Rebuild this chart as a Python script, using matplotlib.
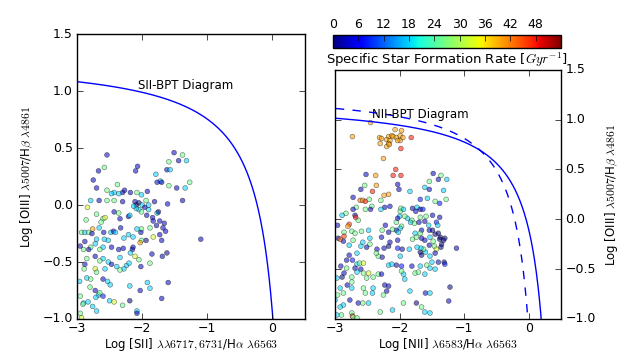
import matplotlib
matplotlib.use('Agg')
import matplotlib.pyplot as plt
import numpy as np

plt.style.use('classic')

# SII-BPT sample: log([SII]/Ha), log([OIII]/Hb), specific SFR (1/Gyr)
sii_x = [-2.54, -1.51, -1.38, -1.32, -1.44, -1.59, -2.58, -2.67, -2.07, -2.10, -2.75, -1.62, -1.57,
         -1.79, -1.72, -1.77, -1.70, -1.27, -1.59, -1.47, -1.34, -2.38, -2.70, -2.54, -2.27, -2.30,
         -2.43, -2.18, -2.08, -1.92, -2.01, -2.47, -2.36, -2.79, -2.66, -2.54, -2.43, -2.30, -2.11,
         -2.05, -2.09, -1.94, -1.81, -1.38, -1.61, -2.84, -2.70, -2.86, -2.60, -2.63, -2.57, -2.43,
         -2.36, -2.21, -2.19, -2.05, -2.01, -1.90, -1.77, -1.75, -1.73, -1.66, -1.83, -1.84, -1.93,
         -1.90, -2.00, -1.96, -2.09, -2.13, -2.34, -2.93, -2.88, -2.82, -2.76, -2.77, -2.66, -2.59,
         -2.70, -2.58, -2.48, -2.44, -2.41, -2.33, -2.28, -2.21, -2.14, -2.08, -2.01, -2.02, -1.88,
         -1.78, -1.64, -1.68, -1.73, -1.70, -1.83, -1.94, -2.01, -2.03, -2.14, -2.15, -2.29, -2.36,
         -2.47, -2.60, -2.72, -2.79, -2.82, -2.90, -2.52, -2.88, -2.65, -2.95, -1.62, -1.69, -1.85,
         -1.88, -2.02, -2.11, -2.05, -2.18, -2.34, -2.52, -2.60, -2.65, -2.72, -2.85, -2.88, -2.72,
         -2.57, -2.70, -2.47, -2.39, -2.24, -2.20, -2.28, -2.34, -2.89, -2.85, -2.96, -2.79, -2.60,
         -2.53, -2.49, -2.80, -2.72, -2.67, -2.60, -2.71, -2.65, -2.95, -2.90, -2.83, -2.76, -2.70,
         -2.50, -2.43, -2.30, -2.19, -1.92, -1.88, -2.03, -2.19, -1.60, -1.70, -2.08, -2.08, -2.95,
         -2.93, -2.91, -1.10]
sii_y = [0.44, 0.46, 0.44, 0.39, 0.39, 0.38, 0.33, 0.30, 0.34, 0.30, 0.22, 0.31, 0.31,
         0.27, 0.21, 0.20, 0.20, 0.20, 0.17, 0.15, 0.15, 0.18, 0.15, 0.13, 0.13, 0.11,
         0.11, 0.11, 0.11, 0.12, 0.09, 0.10, 0.10, 0.04, 0.04, 0.04, 0.04, 0.03, 0.03,
         0.02, 0.00, 0.04, 0.03, 0.04, 0.01, -0.02, -0.08, -0.13, -0.12, -0.15, -0.11, -0.06,
         -0.07, -0.10, -0.09, -0.04, -0.06, -0.04, -0.07, -0.06, -0.14, -0.16, -0.14, -0.11, -0.09,
         0.00, 0.00, -0.02, -0.03, -0.01, -0.12, -0.24, -0.24, -0.24, -0.21, -0.25, -0.20, -0.24,
         -0.30, -0.30, -0.24, -0.23, -0.24, -0.20, -0.29, -0.26, -0.28, -0.21, -0.21, -0.24, -0.20,
         -0.18, -0.23, -0.20, -0.26, -0.31, -0.28, -0.31, -0.31, -0.33, -0.37, -0.39, -0.38, -0.39,
         -0.37, -0.37, -0.34, -0.37, -0.39, -0.39, -0.31, -0.32, -0.39, -0.36, -0.42, -0.45, -0.43,
         -0.51, -0.54, -0.45, -0.48, -0.42, -0.46, -0.50, -0.47, -0.49, -0.45, -0.47, -0.52, -0.56,
         -0.56, -0.59, -0.52, -0.54, -0.53, -0.51, -0.56, -0.57, -0.56, -0.64, -0.67, -0.65, -0.65,
         -0.67, -0.70, -0.72, -0.75, -0.79, -0.80, -0.81, -0.77, -0.80, -0.86, -0.85, -0.89, -0.93,
         -0.84, -0.85, -0.88, -0.84, -0.68, -0.73, -0.75, -0.71, -0.68, -0.82, -0.93, -0.95, -0.95,
         -0.99, -0.87, -0.30]
sii_ssfr = [3, 3, 26, 18, 3, 26, 26, 3, 3, 3, 3, 3, 18,
            18, 18, 3, 3, 26, 26, 3, 18, 26, 3, 26, 3, 3,
            18, 3, 26, 3, 18, 18, 18, 18, 3, 26, 26, 3, 3,
            0, 0, 26, 3, 3, 3, 33, 26, 26, 26, 26, 33, 3,
            26, 3, 18, 18, 26, 18, 18, 0, 3, 3, 3, 3, 3,
            18, 18, 3, 18, 18, 3, 26, 18, 26, 40, 3, 18, 3,
            18, 18, 18, 3, 18, 3, 18, 18, 18, 18, 26, 3, 26,
            3, 3, 3, 3, 3, 33, 0, 26, 40, 3, 3, 3, 3,
            3, 18, 18, 26, 3, 26, 18, 3, 26, 3, 0, 3, 3,
            26, 3, 33, 26, 18, 18, 18, 18, 26, 3, 26, 3, 33,
            18, 26, 3, 18, 18, 18, 18, 26, 26, 18, 18, 26, 3,
            18, 18, 26, 3, 18, 8, 18, 26, 26, 18, 18, 18, 18,
            18, 33, 26, 0, 18, 18, 3, 18, 3, 3, 18, 3, 26,
            33, 26, 3]

# NII-BPT sample: log([NII]/Ha), log([OIII]/Hb), specific SFR (1/Gyr)
nii_x = [-2.45, -2.73, -2.31, -2.28, -2.30, -2.17, -2.20, -2.12, -2.10, -2.07, -2.05, -1.99, -1.97,
         -1.95, -1.99, -2.03, -2.15, -2.17, -2.20, -2.16, -1.82, -1.98, -2.25, -2.06, -2.10, -1.98,
         -2.52, -2.37, -2.03, -2.01, -1.48, -1.36, -1.40, -1.27, -1.54, -1.61, -1.54, -1.32, -2.54,
         -2.60, -2.42, -2.36, -2.24, -2.17, -2.29, -1.84, -1.68, -1.57, -1.28, -1.45, -1.38, -2.72,
         -2.61, -2.57, -2.53, -2.47, -2.43, -2.45, -2.53, -2.67, -2.72, -2.83, -2.89, -2.69, -2.64,
         -2.68, -2.78, -2.80, -2.96, -2.15, -2.23, -2.29, -1.98, -1.80, -1.73, -1.68, -1.64, -1.75,
         -1.88, -1.81, -1.83, -1.77, -1.68, -1.70, -1.61, -1.59, -1.49, -1.38, -1.43, -1.41, -1.40,
         -1.45, -1.37, -1.35, -1.36, -1.38, -1.49, -1.54, -1.55, -1.66, -1.68, -1.76, -1.80, -1.74,
         -1.66, -1.61, -1.53, -1.48, -1.54, -1.46, -1.43, -1.45, -1.60, -1.53, -1.63, -1.68, -1.66,
         -1.67, -1.73, -1.85, -1.96, -1.99, -2.03, -2.03, -1.97, -1.99, -2.05, -2.17, -2.15, -2.24,
         -2.27, -2.35, -2.33, -2.36, -2.46, -2.51, -2.60, -2.72, -2.78, -2.87, -2.95, -2.86, -2.92,
         -2.86, -2.74, -2.69, -2.59, -2.48, -2.46, -2.57, -2.28, -2.11, -2.27, -2.22, -2.17, -2.02,
         -2.00, -1.99, -2.05, -2.03, -1.92, -1.94, -2.66, -2.78, -2.82, -2.73, -2.66, -2.62, -2.56,
         -2.60, -2.69, -2.82, -2.91, -2.86, -2.89, -2.97, -2.74, -2.66, -2.74, -2.81, -2.92, -2.96,
         -2.87, -2.74, -2.56, -2.48, -2.51, -2.41, -2.33, -2.28, -2.17, -2.05, -2.12, -1.97, -1.94,
         -1.97, -1.92, -1.81, -1.76, -1.68, -1.61, -1.53, -1.45, -1.40, -1.31, -1.30, -1.50, -1.58,
         -1.71, -2.23, -2.17, -2.20, -2.25, -2.41, -2.56, -2.53, -2.42, -2.48, -2.64, -2.57, -2.77,
         -2.87, -3.00, -2.92, -2.97, -2.90, -2.74, -2.73, -2.72, -2.66, -2.30, -2.11, -1.94, -1.84,
         -1.74, -1.66, -1.61, -1.53, -1.60, -1.53, -1.22, -1.24, -1.12, -1.30, -1.32]
nii_y = [0.97, 0.83, 0.82, 0.81, 0.76, 0.83, 0.80, 0.84, 0.83, 0.90, 0.82, 0.84, 0.89,
         0.82, 0.79, 0.79, 0.79, 0.76, 0.73, 0.75, 0.82, 0.71, 0.61, 0.50, 0.44, 0.44,
         0.45, 0.44, 0.35, 0.30, 0.46, 0.44, 0.40, 0.40, 0.38, 0.32, 0.30, 0.29, 0.34,
         0.30, 0.28, 0.34, 0.24, 0.25, 0.19, 0.28, 0.20, 0.21, 0.20, 0.18, 0.16, 0.22,
         0.19, 0.19, 0.18, 0.20, 0.13, 0.10, 0.10, 0.12, 0.10, 0.06, 0.04, 0.04, -0.01,
         0.02, -0.05, -0.07, -0.06, 0.13, 0.12, 0.10, 0.11, 0.11, 0.12, 0.10, 0.10, 0.08,
         0.01, -0.01, -0.03, -0.04, 0.02, -0.03, -0.02, 0.03, 0.04, 0.02, -0.03, -0.06, -0.14,
         -0.15, -0.18, -0.25, -0.28, -0.20, -0.11, -0.11, -0.06, -0.11, -0.14, -0.14, -0.20, -0.18,
         -0.19, -0.21, -0.18, -0.22, -0.26, -0.27, -0.30, -0.34, -0.33, -0.37, -0.30, -0.33, -0.36,
         -0.29, -0.28, -0.30, -0.30, -0.37, -0.29, -0.21, -0.07, -0.09, -0.11, -0.27, -0.23, -0.29,
         -0.38, -0.30, -0.37, -0.34, -0.25, -0.28, -0.27, -0.21, -0.26, -0.22, -0.19, -0.13, -0.20,
         -0.17, -0.12, -0.14, -0.12, -0.11, -0.19, -0.23, -0.18, -0.10, -0.11, -0.06, -0.13, -0.13,
         0.03, 0.08, -0.03, 0.01, 0.03, 0.10, -0.34, -0.36, -0.41, -0.41, -0.45, -0.44, -0.44,
         -0.50, -0.49, -0.49, -0.47, -0.54, -0.58, -0.59, -0.58, -0.53, -0.63, -0.66, -0.69, -0.76,
         -0.74, -0.69, -0.54, -0.54, -0.59, -0.58, -0.55, -0.55, -0.46, -0.46, -0.45, -0.47, -0.55,
         -0.52, -0.60, -0.47, -0.54, -0.47, -0.55, -0.49, -0.50, -0.43, -0.43, -0.45, -0.43, -0.46,
         -0.53, -0.66, -0.67, -0.72, -0.76, -0.69, -0.69, -0.74, -0.74, -0.84, -0.84, -0.84, -0.81,
         -0.86, -0.81, -0.88, -0.96, -0.96, -0.94, -0.97, -0.98, -0.99, -0.93, -0.91, -0.84, -0.72,
         -0.84, -0.88, -0.93, -0.94, -0.74, -0.74, -0.68, -0.82, -0.29, -0.19, -0.21]
nii_ssfr = [40, 40, 40, 40, 40, 40, 40, 40, 40, 40, 40, 40, 40,
            40, 40, 40, 40, 40, 40, 40, 48, 48, 40, 48, 48, 48,
            3, 40, 3, 3, 3, 26, 3, 18, 26, 18, 3, 18, 26,
            3, 48, 40, 40, 40, 26, 18, 8, 18, 26, 26, 8, 3,
            44, 40, 48, 26, 26, 3, 26, 26, 3, 26, 18, 3, 26,
            48, 46, 40, 3, 3, 3, 18, 26, 3, 18, 3, 8, 3,
            18, 26, 18, 26, 26, 3, 3, 26, 3, 3, 8, 18, 0,
            0, 0, 0, 0, 0, 0, 3, 18, 3, 26, 18, 26, 26,
            3, 3, 18, 26, 3, 26, 33, 3, 18, 18, 26, 0, 0,
            18, 18, 18, 3, 18, 8, 3, 26, 18, 3, 0, 3, 3,
            3, 3, 26, 26, 26, 3, 18, 26, 18, 3, 3, 26, 44,
            46, 26, 26, 26, 18, 18, 18, 3, 26, 26, 3, 3, 18,
            18, 26, 26, 3, 26, 18, 18, 3, 3, 8, 18, 26, 33,
            3, 3, 26, 3, 3, 0, 18, 26, 18, 26, 3, 18, 26,
            26, 18, 26, 33, 26, 26, 26, 3, 18, 3, 18, 8, 18,
            26, 18, 3, 26, 18, 18, 18, 18, 3, 0, 8, 18, 26,
            26, 3, 3, 3, 26, 18, 26, 26, 18, 18, 3, 26, 3,
            18, 18, 18, 18, 26, 26, 46, 26, 26, 26, 18, 26, 18,
            0, 26, 18, 18, 3, 18, 0, 3, 3, 0, 0]

ssfr_ticks = [0, 6, 12, 18, 24, 30, 36, 42, 48]
ssfr_max = 54

fig = plt.figure(figsize=(6.23, 3.56), dpi=100, facecolor='white')
ax1 = fig.add_axes([0.1236, 0.104, 0.366, 0.80])
ax2 = fig.add_axes([0.5377, 0.104, 0.363, 0.70])
cax = fig.add_axes([0.5345, 0.865, 0.366, 0.0365])

sc_kw = dict(cmap='jet', vmin=0, vmax=ssfr_max, s=12, alpha=0.55,
             edgecolors='k', linewidths=0.4)

# Left: SII diagram with Kewley 2001 line
ax1.scatter(sii_x, sii_y, c=sii_ssfr, **sc_kw)
xs = np.linspace(-3.5, 0.31, 600)
ax1.plot(xs, 0.72 / (xs - 0.32) + 1.30, 'b-', lw=1)
ax1.text(-2.06, 1.05, 'SII-BPT Diagram', fontsize=8.5, va='center')
ax1.set_xlim(-3, 0.5)
ax1.set_ylim(-1, 1.5)
ax1.set_xlabel(r'Log [SII] $\lambda\lambda6717,6731$/H$\alpha$ $\lambda6563$',
               fontsize=8.5, labelpad=1)
ax1.set_ylabel(r'Log [OIII] $\lambda5007$/H$\beta$ $\lambda4861$', fontsize=8.5)

# Right: NII diagram, Kewley line (solid) and empirical SF line (dashed)
ax2.scatter(nii_x, nii_y, c=nii_ssfr, **sc_kw)
xk = np.linspace(-3.5, 0.46, 600)
ax2.plot(xk, 0.61 / (xk - 0.47) + 1.19, 'b-', lw=1)
xd = np.linspace(-3.5, 0.24, 600)
ax2.plot(xd, 0.61 / (xd - 0.25) + 1.30, 'b--', lw=1)
ax2.text(-2.43, 1.05, 'NII-BPT Diagram', fontsize=8.5, va='center')
ax2.set_xlim(-3, 0.5)
ax2.set_ylim(-1, 1.5)
ax2.yaxis.set_ticks_position('both')
ax2.tick_params(axis='y', labelleft=False, labelright=True)
ax2.yaxis.set_label_position('right')
ax2.set_xlabel(r'Log [NII] $\lambda6583$/H$\alpha$ $\lambda6563$',
               fontsize=8.5, labelpad=1)
ax2.set_ylabel(r'Log [OIII] $\lambda5007$/H$\beta$ $\lambda4861$', fontsize=8.5)

for ax in (ax1, ax2):
    ax.set_xticks([-3, -2, -1, 0])
    ax.set_yticks(np.arange(-1, 1.51, 0.5))
    ax.tick_params(labelsize=9)
    ax.tick_params(axis='x', pad=2)
    ax.tick_params(axis='y', pad=3)

# colorbar
sm = plt.cm.ScalarMappable(cmap='jet', norm=plt.Normalize(0, ssfr_max))
cb = fig.colorbar(sm, cax=cax, orientation='horizontal', ticks=ssfr_ticks)
cax.xaxis.set_ticks_position('top')
cax.xaxis.set_label_position('bottom')
cax.tick_params(labelsize=9, pad=3)
cb.set_label(r'Specific Star Formation Rate [$Gyr^{-1}$]', fontsize=9.5, labelpad=2)

fig.savefig('out.png', dpi=100, facecolor='white')
